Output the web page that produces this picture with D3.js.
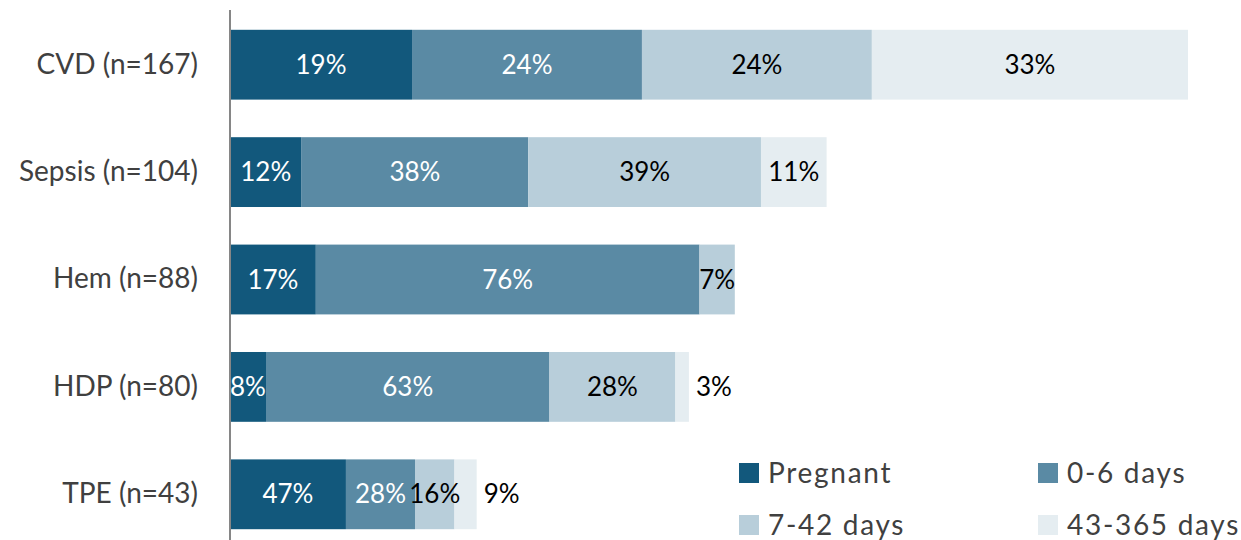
<!DOCTYPE html>
<html>
<head>
<meta charset="utf-8">
<script src="https://cdn.jsdelivr.net/npm/d3@7"></script>
<style>
  body { margin: 0; background: #fff; }
  svg { display: block; font-family: Lato, "Open Sans", sans-serif; }
</style>
</head>
<body>
<svg id="chart"></svg>
<script>
// data
const categories = ['CVD (n=167)', 'Sepsis (n=104)', 'Hem (n=88)', 'HDP (n=80)', 'TPE (n=43)'];
const totals = [167, 104, 88, 80, 43];
const seriesNames = ['Pregnant', '0-6 days', '7-42 days', '43-365 days'];
const pregnant = [19, 12, 17, 8, 47];
const days0to6 = [24, 38, 76, 63, 28];
const days7to42 = [24, 39, 7, 28, 16];
const days43to365 = [33, 11, 0, 3, 9];

const colors = ['#12587c', '#5a8aa4', '#b8ceda', '#e5edf1'];
const textColors = ['#fff', '#fff', '#000', '#000'];

const W = 1241, H = 540;
const left = 230, right = 1188;

const svg = d3.select('#chart').attr('width', W).attr('height', H);

const x = d3.scaleLinear().domain([0, d3.max(totals)]).range([left, right]);
const y = d3.scaleBand().domain(categories).range([11, 548]).paddingInner(0.35).paddingOuter(0.175);

const series = [pregnant, days0to6, days7to42, days43to365];

// build segments: share of each row scaled by its n
const rows = categories.map((c, i) => {
    const vals = series.map(s => s[i]);
    const sum = d3.sum(vals);
    let acc = 0;
    const segs = vals.map((v, k) => {
        const x0 = acc;
        acc += v / sum * totals[i];
        return { cat: c, k: k, v: v, x0: x0, x1: acc, last: k === vals.length - 1 };
    }).filter(d => d.v > 0);
    return segs;
});
const segs = rows.flat();

svg.append('g')
    .selectAll('rect')
    .data(segs)
    .enter()
    .append('rect')
    .attr('x', d => x(d.x0))
    .attr('y', d => y(d.cat))
    .attr('width', d => x(d.x1) - x(d.x0))
    .attr('height', y.bandwidth())
    .attr('fill', d => colors[d.k]);

const outside = d => d.last && x(d.x1) - x(d.x0) < 30;

// labels
svg.append('g')
    .selectAll('text')
    .data(segs)
    .enter()
    .append('text')
    .text(d => d.v + '%')
    .attr('x', d => outside(d) ? x(d.x1) + 7 : (x(d.x0) + x(d.x1)) / 2)
    .attr('y', d => y(d.cat) + y.bandwidth() / 2)
    .attr('dy', '0.35em')
    .attr('text-anchor', d => outside(d) ? 'start' : 'middle')
    .style('fill', d => textColors[d.k])
    .style('font-size', '26px');

// y axis
const yAxis = svg.append('g')
    .attr('transform', `translate(${left},0)`)
    .call(d3.axisLeft(y).tickSize(0).tickPadding(32));
yAxis.select('.domain').remove();
yAxis.selectAll('text')
    .style('font-size', '28px')
    .style('font-family', 'Lato, "Open Sans", sans-serif')
    .style('fill', '#404040');

svg.append('line')
    .attr('x1', left).attr('x2', left)
    .attr('y1', 10).attr('y2', H)
    .attr('stroke', '#868686')
    .attr('stroke-width', 2);

// legend
const legendPos = [[739, 463], [1038, 463], [739, 515], [1038, 515]];
const legend = svg.append('g')
    .selectAll('g')
    .data(seriesNames)
    .enter()
    .append('g')
    .attr('transform', (d, i) => `translate(${legendPos[i][0]},${legendPos[i][1]})`);
legend.append('rect')
    .attr('width', 20).attr('height', 20)
    .attr('fill', (d, i) => colors[i]);
legend.append('text')
    .text(d => d)
    .attr('x', 29)
    .attr('y', 10)
    .attr('dy', '0.35em')
    .style('font-size', '28px')
    .style('letter-spacing', '1.7px')
    .style('fill', '#404040');
</script>
</body>
</html>
